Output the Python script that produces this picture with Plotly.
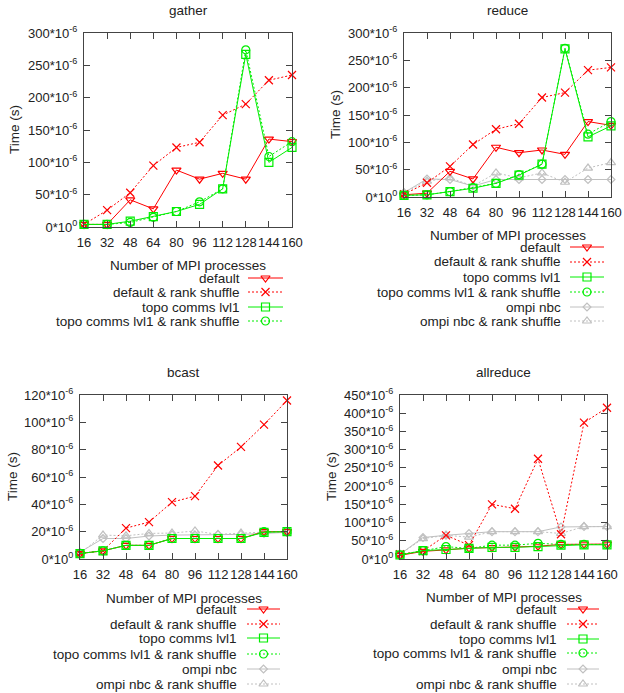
import plotly.graph_objects as go

# ---------------- data (microseconds) ----------------
procs = [16, 32, 48, 64, 80, 96, 112, 128, 144, 160]

series_names = ["default", "default & rank shuffle", "topo comms lvl1",
                "topo comms lvl1 & rank shuffle", "ompi nbc", "ompi nbc & rank shuffle"]

gather_default = [4, 4, 42, 28, 88, 74, 83, 74, 136, 132]
gather_default_shuffle = [4, 26, 53, 95, 123, 131, 173, 190, 227, 235]
gather_topo = [4, 4, 9, 16, 24, 35, 59, 267, 100, 123]
gather_topo_shuffle = [4, 4, 7, 15, 24, 39, 59, 274, 109, 132]

reduce_default = [4, 7, 47, 33, 91, 81, 86, 78, 138, 131]
reduce_default_shuffle = [5, 26, 56, 96, 124, 134, 182, 191, 232, 237]
reduce_topo = [3, 4, 10, 16, 25, 40, 60, 271, 110, 130]
reduce_topo_shuffle = [3, 4, 10, 17, 25, 41, 60, 272, 115, 138]
reduce_ompi = [8, 33, 32, 20, 32, 32, 32, 32, 32, 32]
reduce_ompi_shuffle = [8, 29, 35, 20, 44, 35, 44, 27, 53, 63]

bcast_default = [4, 6, 10, 10, 15, 15, 15, 15, 20, 20]
bcast_default_shuffle = [4, 6, 22.6, 27, 41.6, 46, 68.4, 82, 98.3, 116]
bcast_topo = [4, 6, 10, 10, 15, 15, 15, 15, 19.5, 20]
bcast_topo_shuffle = [4, 6, 10, 10, 15, 15, 15, 15, 20, 20]
bcast_ompi = [5, 15, 15, 16.8, 17.5, 17.5, 18, 18, 18.7, 19.5]
bcast_ompi_shuffle = [4, 17.5, 17, 18.7, 19, 20.5, 18, 19, 19.7, 20]

allreduce_default = [10, 21, 25, 30, 31, 32, 35, 40, 41, 41]
allreduce_default_shuffle = [13, 22, 65, 38, 150, 138, 275, 68, 374, 415]
allreduce_topo = [11, 23, 26, 29, 32, 32, 34, 38, 39, 39]
allreduce_topo_shuffle = [11, 23, 34, 29, 38, 38, 43, 40, 40, 40]
allreduce_ompi = [13, 59, 65, 70, 75, 75, 75, 88, 89, 89]
allreduce_ompi_shuffle = [13, 56, 65, 60, 75, 75, 75, 70, 89, 89]

gather_ticks = [0, 50, 100, 150, 200, 250, 300]
reduce_ticks = [0, 50, 100, 150, 200, 250, 300]
bcast_ticks = [0, 20, 40, 60, 80, 100, 120]
allreduce_ticks = [0, 50, 100, 150, 200, 250, 300, 350, 400, 450]

# ---------------- styles ----------------
W, H = 624, 693
FONT = "Liberation Sans, Arial, sans-serif"
FS = 13.5
TICK_FS = 13
TXT = "#222222"
RED, GREEN, GRAY = "#ff0000", "#00ee00", "#c0c0c0"
DOT = "2px,2px"
styles = [
    dict(color=RED, dash="solid", symbol="triangle-down-open", size=8),
    dict(color=RED, dash=DOT, symbol="x-thin-open", size=8),
    dict(color=GREEN, dash="solid", symbol="square-open", size=8),
    dict(color=GREEN, dash=DOT, symbol="circle-open", size=8),
    dict(color=GRAY, dash="solid", symbol="diamond-open", size=6),
    dict(color=GRAY, dash=DOT, symbol="triangle-up-open", size=8),
]

panels = [
    dict(title="gather", data=[gather_default, gather_default_shuffle, gather_topo, gather_topo_shuffle],
         ticks=gather_ticks, box=(84, 292, 33, 227), title_y=11, ylab_x=15, xlab_y=265,
         leg_y=[278, 292, 307, 321], leg_tx=242, leg_s=(248, 283)),
    dict(title="reduce", data=[reduce_default, reduce_default_shuffle, reduce_topo, reduce_topo_shuffle,
                               reduce_ompi, reduce_ompi_shuffle],
         ticks=reduce_ticks, box=(404, 611, 33, 197), title_y=11, ylab_x=335, xlab_y=235,
         leg_y=[247, 262, 277, 292, 307, 321], leg_tx=563, leg_s=(570, 604)),
    dict(title="bcast", data=[bcast_default, bcast_default_shuffle, bcast_topo, bcast_topo_shuffle,
                              bcast_ompi, bcast_ompi_shuffle],
         ticks=bcast_ticks, box=(80, 287, 395, 559), title_y=373, ylab_x=12, xlab_y=598,
         leg_y=[609, 624, 638, 654, 669, 684], leg_tx=239, leg_s=(247, 280)),
    dict(title="allreduce", data=[allreduce_default, allreduce_default_shuffle, allreduce_topo,
                                  allreduce_topo_shuffle, allreduce_ompi, allreduce_ompi_shuffle],
         ticks=allreduce_ticks, box=(400, 607, 395, 559), title_y=373, ylab_x=331, xlab_y=597,
         leg_y=[609, 624, 639, 653, 669, 684], leg_tx=559, leg_s=(567, 599)),
]


def px(x):
    return x / W


def py(y):
    return 1 - y / H


fig = go.Figure()
layout = {}
annotations = []

for k, p in enumerate(panels):
    n = k + 1
    xa, ya = f"x{n}", f"y{n}"
    x0, x1, y0, y1 = p["box"]
    order = list(range(len(p["data"])))
    order = [i for i in order if i >= 4] + [i for i in order if i < 4]
    for i in order:
        vals = p["data"][i]
        st = styles[i]
        fig.add_trace(go.Scatter(
            x=procs, y=[v * 1e-6 for v in vals], xaxis=xa, yaxis=ya,
            mode="lines+markers", name=series_names[i], showlegend=False, cliponaxis=False,
            line=dict(color=st["color"], width=1, dash=st["dash"]),
            marker=dict(symbol=st["symbol"], size=st["size"], color=st["color"],
                        line=dict(color=st["color"], width=1.2)),
        ))
    axis_common = dict(showline=True, linecolor="#444444", linewidth=1, mirror="allticks",
                       ticks="inside", ticklen=6, tickcolor="#444444", tickwidth=1,
                       showgrid=False, zeroline=False, tickangle=0, automargin=False,
                       tickfont=dict(family=FONT, size=TICK_FS, color=TXT))
    layout[f"xaxis{n}"] = dict(domain=[px(x0), px(x1)], anchor=ya, range=[16, 160],
                               tickvals=procs, ticktext=[str(v) for v in procs],
                               ticklabelstandoff=3, **axis_common)
    tv = p["ticks"]
    tt = ["0*10<sup>0</sup>" if v == 0 else f"{v}*10<sup>-6</sup>" for v in tv]
    layout[f"yaxis{n}"] = dict(domain=[py(y1), py(y0)], anchor=xa, range=[0, tv[-1] * 1e-6],
                               tickvals=[v * 1e-6 for v in tv], ticktext=tt,
                               ticklabelstandoff=3, **axis_common)
    cx = (x0 + x1) / 2
    annotations.append(dict(text=p["title"], x=px(cx), y=py(p["title_y"]), xref="paper", yref="paper",
                            showarrow=False, xanchor="center", yanchor="middle",
                            font=dict(family=FONT, size=FS, color=TXT)))
    annotations.append(dict(text="Time (s)", x=px(p["ylab_x"]), y=py((y0 + y1) / 2), xref="paper",
                            yref="paper", showarrow=False, textangle=-90, xanchor="center",
                            yanchor="middle", font=dict(family=FONT, size=FS, color=TXT)))
    annotations.append(dict(text="Number of MPI processes", x=px(cx), y=py(p["xlab_y"]), xref="paper",
                            yref="paper", showarrow=False, xanchor="center", yanchor="middle",
                            font=dict(family=FONT, size=FS, color=TXT)))
    # legend (gnuplot style: text right-aligned, sample on the right)
    sx0, sx1 = p["leg_s"]
    sm = (sx0 + sx1) / 2
    for i, ly in enumerate(p["leg_y"]):
        st = styles[i]
        annotations.append(dict(text=series_names[i], x=px(p["leg_tx"]), y=py(ly), xref="paper",
                                yref="paper", showarrow=False, xanchor="right", yanchor="middle",
                                font=dict(family=FONT, size=FS, color=TXT)))
        fig.add_trace(go.Scatter(x=[sx0, sx1], y=[ly, ly], xaxis="x5", yaxis="y5", mode="lines",
                                 showlegend=False, hoverinfo="skip", cliponaxis=False,
                                 line=dict(color=st["color"], width=1, dash=st["dash"])))
        fig.add_trace(go.Scatter(x=[sm], y=[ly], xaxis="x5", yaxis="y5", mode="markers",
                                 showlegend=False, hoverinfo="skip", cliponaxis=False,
                                 marker=dict(symbol=st["symbol"], size=st["size"], color=st["color"],
                                             line=dict(color=st["color"], width=1.2))))

layout["xaxis5"] = dict(domain=[0, 1], range=[0, W], anchor="y5", visible=False, fixedrange=True,
                        automargin=False)
layout["yaxis5"] = dict(domain=[0, 1], range=[H, 0], anchor="x5", visible=False, fixedrange=True,
                        automargin=False)

fig.update_layout(width=W, height=H, autosize=False,
                  margin=dict(l=0, r=0, t=0, b=0, pad=0, autoexpand=False),
                  paper_bgcolor="white", plot_bgcolor="rgba(0,0,0,0)", showlegend=False,
                  font=dict(family=FONT, size=FS, color=TXT), annotations=annotations, **layout)

fig.write_html("out.html", config={"displayModeBar": False},
               post_script="document.body.style.margin='0';document.body.style.overflow='hidden';")
